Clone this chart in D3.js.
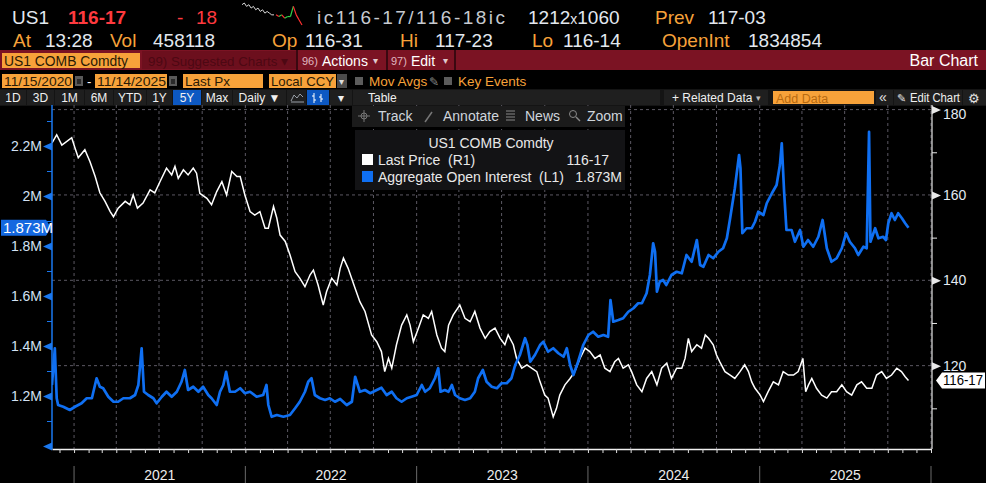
<!doctype html>
<html lang="en">
<head>
<meta charset="utf-8">
<title>US1 COMB Comdty - Bar Chart</title>
<script src="https://cdn.jsdelivr.net/npm/d3@7"></script>
<style>
  body { margin: 0; background: #000; overflow: hidden; }
  svg text { font-family: "Liberation Sans", Arial, sans-serif; white-space: pre; }
</style>
</head>
<body>
<script>
// ---- data ----
// last price (right axis, points)
var lastPrice = [
  ["2020-11-15",172.2],["2020-11-25",174.1],["2020-12-06",171.7],["2020-12-16",172.5],["2020-12-27",173.4],
  ["2021-01-03",171.0],["2021-01-10",168.7],["2021-01-24",170.6],["2021-02-04",167.8],["2021-02-15",164.3],["2021-02-25",160.5],
  ["2021-03-08",158.5],["2021-03-19",156.1],["2021-03-26",154.9],["2021-04-05",156.9],["2021-04-20",158.5],["2021-04-30",157.7],
  ["2021-05-07",160.0],["2021-05-16",156.9],["2021-05-28",158.1],["2021-06-12",161.2],["2021-06-22",160.5],["2021-07-03",163.1],
  ["2021-07-17",166.3],["2021-07-28",164.7],["2021-08-04",166.7],["2021-08-11",163.9],["2021-08-22",165.9],["2021-09-01",164.7],
  ["2021-09-12",166.3],["2021-09-19",165.1],["2021-09-26",160.4],["2021-10-11",159.2],["2021-10-21",157.7],["2021-11-01",160.8],
  ["2021-11-12",163.1],["2021-11-22",160.0],["2021-12-03",165.5],["2021-12-14",164.3],["2021-12-21",164.3],["2021-12-31",160.0],
  ["2022-01-11",156.1],["2022-01-21",155.3],["2022-02-01",156.1],["2022-02-12",152.2],["2022-02-19",152.2],["2022-03-02",157.3],
  ["2022-03-09",154.6],["2022-03-16",150.6],["2022-03-27",149.1],["2022-04-06",146.0],["2022-04-17",142.0],["2022-04-27",140.5],
  ["2022-05-08",138.5],["2022-05-19",141.3],["2022-05-26",142.4],["2022-06-05",138.9],["2022-06-16",134.2],["2022-06-23",137.3],
  ["2022-07-04",140.5],["2022-07-15",138.9],["2022-07-22",142.8],["2022-07-29",145.2],["2022-08-08",142.8],["2022-08-23",138.1],
  ["2022-09-02",135.0],["2022-09-13",132.7],["2022-09-27",127.2],["2022-10-08",125.6],["2022-10-18",123.3],["2022-10-25",118.6],
  ["2022-11-02",121.7],["2022-11-09",119.4],["2022-11-19",124.9],["2022-11-30",129.5],["2022-12-11",131.9],["2022-12-18",129.5],
  ["2022-12-25",125.6],["2023-01-05",128.8],["2023-01-15",131.9],["2023-01-26",131.1],["2023-02-02",132.7],["2023-02-13",127.2],
  ["2023-02-23",124.1],["2023-03-02",123.3],["2023-03-10",129.5],["2023-03-20",131.9],["2023-04-03",134.2],["2023-04-14",131.1],
  ["2023-04-25",130.3],["2023-05-05",132.7],["2023-05-16",128.8],["2023-05-27",126.4],["2023-06-06",128.0],["2023-06-17",128.8],
  ["2023-06-28",126.4],["2023-07-08",124.9],["2023-07-15",127.2],["2023-07-26",124.9],["2023-08-02",121.7],["2023-08-13",119.4],
  ["2023-08-24",120.2],["2023-09-03",119.4],["2023-09-14",118.6],["2023-09-21",116.2],["2023-10-01",113.1],["2023-10-08",112.4],
  ["2023-10-19",108.0],["2023-10-26",110.0],["2023-11-02",113.1],["2023-11-13",115.5],["2023-11-24",117.0],["2023-12-04",118.6],
  ["2023-12-15",121.7],["2023-12-26",124.1],["2024-01-05",123.3],["2024-01-16",121.7],["2024-01-27",122.5],["2024-02-06",119.4],
  ["2024-02-17",118.6],["2024-02-27",120.9],["2024-03-06",121.7],["2024-03-16",119.4],["2024-03-27",120.2],["2024-04-03",118.6],
  ["2024-04-14",115.5],["2024-04-25",113.9],["2024-05-05",117.0],["2024-05-16",118.6],["2024-05-27",115.5],["2024-06-06",119.4],
  ["2024-06-17",120.6],["2024-06-27",117.0],["2024-07-08",119.4],["2024-07-19",119.4],["2024-07-26",121.7],["2024-08-02",126.4],
  ["2024-08-09",123.3],["2024-08-20",124.9],["2024-08-30",124.1],["2024-09-07",127.2],["2024-09-14",126.4],["2024-09-24",124.9],
  ["2024-10-01",122.5],["2024-10-08",120.9],["2024-10-19",118.6],["2024-10-30",117.8],["2024-11-09",117.0],["2024-11-20",118.6],
  ["2024-11-30",120.2],["2024-12-08",118.6],["2024-12-15",116.2],["2024-12-22",114.7],["2025-01-02",113.1],["2025-01-09",111.6],
  ["2025-01-19",113.9],["2025-01-30",116.2],["2025-02-10",115.5],["2025-02-20",118.6],["2025-03-03",117.8],["2025-03-14",117.8],
  ["2025-03-24",118.6],["2025-04-03",121.7],["2025-04-09",113.9],["2025-04-15",115.5],["2025-04-22",117.0],["2025-05-02",114.7],
  ["2025-05-13",113.1],["2025-05-24",112.4],["2025-06-03",113.9],["2025-06-14",113.9],["2025-06-25",115.5],["2025-07-05",113.9],
  ["2025-07-16",113.1],["2025-07-27",115.5],["2025-08-06",116.2],["2025-08-17",114.7],["2025-08-28",114.7],["2025-09-07",117.8],
  ["2025-09-18",118.6],["2025-09-28",117.0],["2025-10-09",117.8],["2025-10-20",119.4],["2025-10-30",118.6],["2025-11-07",117.4],
  ["2025-11-14",116.53]
];

// aggregate open interest (left axis, millions of contracts)
var openInterest = [
  ["2020-11-15",1.244],["2020-11-21",1.391],["2020-11-25",1.191],["2020-11-28",1.164],["2020-12-09",1.157],["2020-12-23",1.144],
  ["2021-01-03",1.157],["2021-01-17",1.171],["2021-01-28",1.191],["2021-02-08",1.191],["2021-02-18",1.271],["2021-02-25",1.237],
  ["2021-03-04",1.231],["2021-03-15",1.197],["2021-03-26",1.177],["2021-04-05",1.177],["2021-04-16",1.191],["2021-04-30",1.191],
  ["2021-05-11",1.204],["2021-05-18",1.244],["2021-05-25",1.391],["2021-05-30",1.217],["2021-06-08",1.204],["2021-06-19",1.191],
  ["2021-06-26",1.171],["2021-07-07",1.197],["2021-07-17",1.217],["2021-07-28",1.197],["2021-08-08",1.217],["2021-08-18",1.257],
  ["2021-08-25",1.304],["2021-09-01",1.224],["2021-09-12",1.237],["2021-09-23",1.217],["2021-10-03",1.237],["2021-10-14",1.204],
  ["2021-10-21",1.191],["2021-11-01",1.164],["2021-11-08",1.217],["2021-11-15",1.244],["2021-11-21",1.297],["2021-11-29",1.217],
  ["2021-12-10",1.217],["2021-12-21",1.231],["2021-12-31",1.211],["2022-01-11",1.217],["2022-01-25",1.197],["2022-02-08",1.204],
  ["2022-02-15",1.244],["2022-02-19",1.164],["2022-02-26",1.117],["2022-03-09",1.124],["2022-03-23",1.117],["2022-04-06",1.124],
  ["2022-04-17",1.151],["2022-04-27",1.177],["2022-05-08",1.217],["2022-05-15",1.257],["2022-05-22",1.271],["2022-05-29",1.204],
  ["2022-06-09",1.191],["2022-06-20",1.184],["2022-06-30",1.191],["2022-07-11",1.177],["2022-07-22",1.188],["2022-08-05",1.164],
  ["2022-08-16",1.177],["2022-08-23",1.277],["2022-09-02",1.217],["2022-09-13",1.224],["2022-09-24",1.211],["2022-10-08",1.224],
  ["2022-10-18",1.233],["2022-10-29",1.204],["2022-11-09",1.217],["2022-11-19",1.191],["2022-11-30",1.177],["2022-12-11",1.191],
  ["2022-12-21",1.197],["2023-01-01",1.204],["2023-01-12",1.244],["2023-01-19",1.217],["2023-01-29",1.231],["2023-02-09",1.271],
  ["2023-02-16",1.311],["2023-02-21",1.217],["2023-03-02",1.224],["2023-03-10",1.217],["2023-03-17",1.244],["2023-03-24",1.204],
  ["2023-04-03",1.191],["2023-04-14",1.184],["2023-04-25",1.191],["2023-05-05",1.217],["2023-05-12",1.271],["2023-05-22",1.304],
  ["2023-05-30",1.257],["2023-06-10",1.237],["2023-06-21",1.231],["2023-07-01",1.251],["2023-07-12",1.251],["2023-07-22",1.271],
  ["2023-07-30",1.324],["2023-08-09",1.364],["2023-08-20",1.431],["2023-08-25",1.404],["2023-08-31",1.337],["2023-09-10",1.364],
  ["2023-09-21",1.404],["2023-09-28",1.417],["2023-10-08",1.377],["2023-10-19",1.391],["2023-10-30",1.371],["2023-11-10",1.357],
  ["2023-11-17",1.391],["2023-11-24",1.324],["2023-12-01",1.284],["2023-12-11",1.337],["2023-12-22",1.404],["2024-01-02",1.444],
  ["2024-01-12",1.457],["2024-01-23",1.437],["2024-02-03",1.444],["2024-02-13",1.437],["2024-02-18",1.584],["2024-02-24",1.497],
  ["2024-03-06",1.504],["2024-03-16",1.511],["2024-03-27",1.537],["2024-04-07",1.551],["2024-04-17",1.571],["2024-04-25",1.571],
  ["2024-05-05",1.611],["2024-05-12",1.684],["2024-05-19",1.811],["2024-05-23",1.777],["2024-05-27",1.617],["2024-06-02",1.657],
  ["2024-06-09",1.664],["2024-06-16",1.644],["2024-06-27",1.684],["2024-07-08",1.697],["2024-07-19",1.691],["2024-07-29",1.764],
  ["2024-08-09",1.737],["2024-08-20",1.824],["2024-08-27",1.724],["2024-09-03",1.717],["2024-09-14",1.764],["2024-09-24",1.751],
  ["2024-10-05",1.777],["2024-10-15",1.791],["2024-10-23",1.831],["2024-10-30",1.911],["2024-11-09",2.031],["2024-11-18",2.164],
  ["2024-11-21",2.111],["2024-11-25",1.851],["2024-12-04",1.871],["2024-12-15",1.871],["2024-12-22",1.897],["2024-12-29",1.937],
  ["2025-01-09",1.924],["2025-01-16",1.971],["2025-01-27",2.011],["2025-02-06",2.044],["2025-02-13",2.124],["2025-02-17",2.211],
  ["2025-02-22",2.017],["2025-02-27",1.864],["2025-03-10",1.864],["2025-03-17",1.817],["2025-03-28",1.864],["2025-04-04",1.797],
  ["2025-04-14",1.824],["2025-04-25",1.797],["2025-05-06",1.837],["2025-05-15",1.904],["2025-05-24",1.791],["2025-06-03",1.737],
  ["2025-06-14",1.751],["2025-06-25",1.791],["2025-07-04",1.851],["2025-07-12",1.817],["2025-07-23",1.791],["2025-07-30",1.764],
  ["2025-08-10",1.797],["2025-08-17",1.791],["2025-08-22",2.257],["2025-08-25",1.817],["2025-09-04",1.871],["2025-09-11",1.831],
  ["2025-09-21",1.837],["2025-09-27",1.824],["2025-10-02",1.891],["2025-10-09",1.931],["2025-10-16",1.904],["2025-10-23",1.931],
  ["2025-10-31",1.911],["2025-11-07",1.891],["2025-11-14",1.873]
];

var leftTicks  = [1.0, 1.2, 1.4, 1.6, 1.8, 2.0, 2.2];
var leftMinor  = [1.1, 1.3, 1.5, 1.7, 1.9, 2.1, 2.3];
var rightTicks = [180, 160, 140, 120];
var rightMinor = [170, 150, 130, 110];
var years      = [2021, 2022, 2023, 2024, 2025];
var lastPriceLabel = "116-17", lastOILabel = "1.873M";

// intraday sparkline in the header
var sparkPrev  = [10, 11, 9, 10, 8, 9, 7, 8, 6, 7, 5, 6, 5, 4, 4];
var sparkToday = [4, 3, 4, 2, 3, 3, 9, 4, 1, -2];

// ---- page ----
var FONT = '"Liberation Sans", Arial, sans-serif';
var ORANGE = "#f7a23a", WHITE = "#e3e8ef", RED = "#ff3a3f", BLUE = "#0f6ff2", GRID = "#5b5862";

var svg = d3.select("body").append("svg")
    .attr("width", 986).attr("height", 483)
    .style("display", "block").style("background", "#000");

function label(g, x, y, s, fill, size, extra) {
  var t = g.append("text").attr("x", x).attr("y", y).text(s)
      .attr("fill", fill).attr("font-size", size);
  if (extra) for (var k in extra) t.attr(k, extra[k]);
  return t;
}

// row 1 - quote line
var head = svg.append("g");
label(head, 12, 24, "US1", WHITE, 19);
label(head, 68, 24, "116-17", RED, 19, {"font-weight": "bold"});
label(head, 177, 24, "-", RED, 19);
label(head, 196, 24, "18", RED, 19);
label(head, 317, 24, "ic116-17/116-18ic", "#c6cad0", 19, {textLength: 188, lengthAdjust: "spacing"});
var dims = label(head, 528, 24, "1212", WHITE, 19);
dims.append("tspan").attr("font-size", 14).text("x");
dims.append("tspan").text("1060");
label(head, 655, 24, "Prev", ORANGE, 19);
label(head, 708, 24, "117-03", WHITE, 19);

// sparkline
var sxPrev = d3.scaleLinear().domain([0, sparkPrev.length - 1]).range([242, 274]);
var sxToday = d3.scaleLinear().domain([0, sparkToday.length - 1]).range([276, 302]);
var sy = d3.scaleLinear().domain([-2, 11]).range([25, 3]);
head.append("path")
  .attr("d", d3.line().x(function(d, i){ return sxPrev(i); }).y(function(d){ return sy(d); })(sparkPrev))
  .attr("fill", "none").attr("stroke", "#d8d8d8").attr("stroke-width", 1);
for (var i = 1; i < sparkToday.length; i++) {
  head.append("line")
    .attr("x1", sxToday(i - 1)).attr("y1", sy(sparkToday[i - 1]))
    .attr("x2", sxToday(i)).attr("y2", sy(sparkToday[i]))
    .attr("stroke", sparkToday[i] >= sparkToday[i - 1] ? "#2fd04a" : "#ff3030")
    .attr("stroke-width", 1.2);
}

// row 2
var row2 = [[13,"At",ORANGE],[45,"13:28",WHITE],[110,"Vol",ORANGE],[153,"458118",WHITE],
            [272,"Op",ORANGE],[305,"116-31",WHITE],[400,"Hi",ORANGE],[435,"117-23",WHITE],
            [532,"Lo",ORANGE],[563,"116-14",WHITE],[662,"OpenInt",ORANGE],[748,"1834854",WHITE]];
row2.forEach(function(r){ label(head, r[0], 47, r[1], r[2], 19); });

// row 3 - red menu bar
svg.append("rect").attr("x", 0).attr("y", 50).attr("width", 986).attr("height", 20).attr("fill", "#7b1323");
svg.append("rect").attr("x", 2).attr("y", 53).attr("width", 138).attr("height", 15).attr("fill", ORANGE);
label(svg, 4, 65.5, "US1 COMB Comdty", "#2a1a05", 14.5, {textLength: 124, lengthAdjust: "spacingAndGlyphs"});
svg.append("rect").attr("x", 142).attr("y", 51).attr("width", 154).attr("height", 18).attr("fill", "#6c0f1d");
label(svg, 148, 65.5, "99) Suggested Charts \u25BE", "#4d0813", 13.5, {textLength: 140, lengthAdjust: "spacingAndGlyphs"});
[297, 387, 455].forEach(function(sx){
  svg.append("rect").attr("x", sx - 1).attr("y", 50).attr("width", 2).attr("height", 20).attr("fill", "#3a0810");
});
label(svg, 302, 65, "96)", "#e0b8c0", 11);
label(svg, 322, 65.5, "Actions", "#ffffff", 14);
label(svg, 373, 64, "\u25BE", "#e0c8cc", 10);
label(svg, 391, 65, "97)", "#e0b8c0", 11);
label(svg, 411, 65.5, "Edit", "#ffffff", 14);
label(svg, 443, 64, "\u25BE", "#e0c8cc", 10);
label(svg, 978, 66, "Bar Chart", "#ffffff", 16, {"text-anchor": "end"});

// row 4 - range and field selectors
function orangeBox(x0, x1, s, len) {
  svg.append("rect").attr("x", x0).attr("y", 74).attr("width", x1 - x0).attr("height", 14).attr("fill", ORANGE);
  var t = label(svg, x0 + 2, 86, s, "#2a1a05", 13.5);
  if (len) t.attr("textLength", len).attr("lengthAdjust", "spacingAndGlyphs");
}
function calIcon(x0) {
  svg.append("rect").attr("x", x0).attr("y", 76).attr("width", 8).attr("height", 10).attr("fill", "#5a5a5a");
  svg.append("rect").attr("x", x0 + 2).attr("y", 79).attr("width", 4).attr("height", 5).attr("fill", "#2a2a2a");
}
orangeBox(2, 73, "11/15/2020", 68); calIcon(75);
label(svg, 87, 86, "-", "#ffffff", 13);
orangeBox(95, 167, "11/14/2025", 69); calIcon(169);
orangeBox(183, 263, "Last Px");
orangeBox(269, 336, "Local CCY", 63);
svg.append("rect").attr("x", 337).attr("y", 74).attr("width", 10).attr("height", 14).attr("fill", "#4a4a4a");
label(svg, 339, 85, "\u25BE", "#dddddd", 10);
svg.append("rect").attr("x", 355).attr("y", 77).attr("width", 8).attr("height", 8).attr("fill", "#5c5c5c");
label(svg, 369, 86, "Mov Avgs", ORANGE, 13.5);
label(svg, 429, 86, "\u270E", "#8a8a8a", 12);
svg.append("rect").attr("x", 444).attr("y", 77).attr("width", 8).attr("height", 8).attr("fill", "#5c5c5c");
label(svg, 458, 86, "Key Events", ORANGE, 13.5);

// row 5 - period buttons
svg.append("rect").attr("x", 0).attr("y", 89).attr("width", 986).attr("height", 17).attr("fill", "#141414");
var buttons = [[0,26,"1D"],[27,54,"3D"],[55,84,"1M"],[85,113,"6M"],[114,146,"YTD"],[147,172,"1Y"],
               [173,201,"5Y"],[202,232,"Max"],[233,286,"Daily \u25BC"],[287,306,""],[307,329,""],[330,352,"\u25BE"],
               [353,660,""]];
buttons.forEach(function(b){
  svg.append("rect").attr("x", b[0]).attr("y", 90).attr("width", b[1] - b[0]).attr("height", 15)
    .attr("fill", b[2] === "5Y" || b[0] === 307 ? "#0d58c2" : "#1f1f1f");
  if (b[2]) label(svg, (b[0] + b[1]) / 2, 102, b[2], "#f0f0f0", 12, {"text-anchor": "middle"});
});
label(svg, 368, 102, "Table", "#f0f0f0", 12);
// chart type icons
svg.append("path").attr("d", "M291,101 L294,95 L297,98 L300,94 L303,97").attr("fill", "none").attr("stroke", "#9aa0a8");
svg.append("path").attr("d", "M291,102 H304").attr("stroke", "#9aa0a8");
svg.append("path").attr("d", "M314,93 V103 M312,96 H314 M314,100 H316 M321,94 V102 M319,97 H321 M321,99 H323")
  .attr("stroke", "#ffffff").attr("fill", "none");
// right side of the toolbar
[[664,768],[876,893],[894,962],[963,986]].forEach(function(b){
  svg.append("rect").attr("x", b[0]).attr("y", 90).attr("width", b[1] - b[0]).attr("height", 15).attr("fill", "#1f1f1f");
});
label(svg, 672, 102, "+ Related Data", "#f0f0f0", 12);
label(svg, 756, 101, "\u25BE", "#bbbbbb", 9);
svg.append("rect").attr("x", 773).attr("y", 91).attr("width", 101).attr("height", 13).attr("fill", ORANGE);
label(svg, 776, 102.5, "Add Data", "#b86a10", 12.5);
label(svg, 879, 102, "\u00AB", "#e0e0e0", 14);
label(svg, 897, 102, "\u270E", "#e0e0e0", 11);
label(svg, 910, 102, "Edit Chart", "#f0f0f0", 12, {textLength: 50, lengthAdjust: "spacingAndGlyphs"});
label(svg, 968, 103, "\u2699", "#e0e0e0", 13, {"font-family": "DejaVu Sans"});

// ---- chart ----
var parse = d3.timeParse("%Y-%m-%d");
var x  = d3.scaleTime().domain([parse("2020-11-15"), parse("2026-01-01")]).range([52, 931]);
var yL = d3.scaleLinear().domain([1.0, 2.2]).range([446, 146]);
var yR = d3.scaleLinear().domain([100, 180]).range([451, 109.6]);
var pTop = 105, pBottom = 449, pLeft = 52, pRight = 932;

svg.append("clipPath").attr("id", "plotclip").append("rect")
  .attr("x", pLeft).attr("y", pTop).attr("width", pRight - pLeft).attr("height", pBottom - pTop);

// grid
var grid = svg.append("g").attr("stroke", GRID).attr("stroke-dasharray", "3,3").attr("stroke-width", 1);
x.ticks(d3.timeMonth.every(3)).forEach(function(d){
  grid.append("line").attr("x1", x(d)).attr("x2", x(d)).attr("y1", pTop).attr("y2", pBottom);
});
rightTicks.forEach(function(v){
  grid.append("line").attr("x1", pLeft).attr("x2", pRight).attr("y1", yR(v)).attr("y2", yR(v));
});

// series
var plot = svg.append("g").attr("clip-path", "url(#plotclip)");
plot.append("path")
  .attr("d", d3.line().x(function(d){ return x(parse(d[0])); }).y(function(d){ return yR(d[1]); })(lastPrice))
  .attr("fill", "none").attr("stroke", "#ffffff").attr("stroke-width", 1.5);
plot.append("path")
  .attr("d", d3.line().x(function(d){ return x(parse(d[0])); }).y(function(d){ return yL(d[1]); })(openInterest))
  .attr("fill", "none").attr("stroke", BLUE).attr("stroke-width", 2.7).attr("stroke-linejoin", "round");

// left axis (open interest)
var gL = svg.append("g").attr("transform", "translate(" + pLeft + ",0)");
gL.append("line").attr("y1", pTop).attr("y2", pBottom).attr("stroke", "#1a78f0").attr("stroke-width", 1.5);
gL.call(d3.axisLeft(yL).tickValues(leftTicks).tickSize(0).tickPadding(10)
  .tickFormat(function(d){ return d === 1.0 ? "" : (+d.toFixed(1)) + "M"; }));
gL.select(".domain").remove();
gL.attr("font-family", FONT).attr("font-size", 14);
gL.selectAll(".tick text").attr("fill", "#d3e2f4");
gL.selectAll(".tick").append("path").attr("d", "M0,-4L-9,0L0,4Z").attr("fill", "#1a78f0");
var gLm = svg.append("g").attr("transform", "translate(" + pLeft + ",0)");
gLm.call(d3.axisLeft(yL).tickValues(leftMinor).tickSize(5).tickFormat(""));
gLm.select(".domain").remove();
gLm.selectAll("line").attr("stroke", "#1a78f0");

// right axis (price)
var gR = svg.append("g").attr("transform", "translate(" + pRight + ",0)");
gR.append("line").attr("y1", pTop).attr("y2", pBottom).attr("stroke", "#e8e8e8").attr("stroke-width", 1.2);
gR.call(d3.axisRight(yR).tickValues(rightTicks).tickSize(0).tickPadding(11).tickFormat(d3.format("d")));
gR.select(".domain").remove();
gR.attr("font-family", FONT).attr("font-size", 14);
gR.selectAll(".tick text").attr("fill", "#e3e9f2")
  .attr("transform", function(d){ return yR(d) < 114 ? "translate(0," + (114 - yR(d)) + ")" : null; });
gR.selectAll(".tick").append("path").attr("d", "M0,-4L9,0L0,4Z").attr("fill", "#e8e8e8");
var gRm = svg.append("g").attr("transform", "translate(" + pRight + ",0)");
gRm.call(d3.axisRight(yR).tickValues(rightMinor).tickSize(5).tickFormat(""));
gRm.select(".domain").remove();
gRm.selectAll("line").attr("stroke", "#e8e8e8");

// bottom axis
var gX = svg.append("g").attr("transform", "translate(0," + pBottom + ")");
gX.call(d3.axisBottom(x).ticks(d3.timeMonth.every(1)).tickSize(4).tickSizeOuter(0).tickFormat(""));
gX.select(".domain").attr("stroke", "#f0f0f0").attr("stroke-width", 1.5);
gX.selectAll(".tick line").attr("stroke", "#e0e0e0");

// year band
var seps = d3.timeYear.range(new Date(2021, 0, 1), new Date(2026, 0, 2));
seps.forEach(function(d){
  svg.append("line").attr("x1", x(d)).attr("x2", x(d)).attr("y1", 466).attr("y2", 483)
    .attr("stroke", "#6a6a6a").attr("stroke-width", 1);
});
years.forEach(function(yv){
  var a = x(new Date(yv, 0, 1)), b = x(new Date(yv + 1, 0, 1));
  label(svg, (a + b) / 2, 480, String(yv), "#ececec", 14, {"text-anchor": "middle"});
});

// current value tags
var yo = yL(openInterest[openInterest.length - 1][1]);
svg.append("path").attr("d", "M1," + (yo - 8) + " H46 L51," + yo + " L46," + (yo + 8) + " H1Z").attr("fill", "#1468e0");
label(svg, 3, yo + 5, lastOILabel, "#ffffff", 15);
var yp = yR(lastPrice[lastPrice.length - 1][1]);
svg.append("path").attr("d", "M936," + yp + " L942," + (yp - 8) + " H985 V" + (yp + 8) + " H942Z").attr("fill", "#ffffff");
label(svg, 943, yp + 5, lastPriceLabel, "#000000", 14, {textLength: 40, lengthAdjust: "spacingAndGlyphs"});

// chart toolbar
svg.append("rect").attr("x", 352).attr("y", 106).attr("width", 273).attr("height", 21).attr("fill", "#1b1b1b");
svg.append("path").attr("d", "M358,116 H370 M364,110 V122").attr("stroke", "#777").attr("stroke-width", 1);
svg.append("circle").attr("cx", 364).attr("cy", 116).attr("r", 3).attr("fill", "none").attr("stroke", "#777");
label(svg, 378, 121, "Track", "#cfd5dc", 14);
svg.append("path").attr("d", "M425,122 L432,112").attr("stroke", "#777").attr("stroke-width", 1.5);
label(svg, 443, 121, "Annotate", "#cfd5dc", 14);
svg.append("path").attr("d", "M506,111 H515 M506,114 H515 M506,117 H515 M506,120 H515").attr("stroke", "#888");
label(svg, 525, 121, "News", "#cfd5dc", 14);
svg.append("circle").attr("cx", 573).attr("cy", 114).attr("r", 3.5).attr("fill", "none").attr("stroke", "#888");
svg.append("path").attr("d", "M576,117 L580,121").attr("stroke", "#888").attr("stroke-width", 1.5);
label(svg, 587, 121, "Zoom", "#cfd5dc", 14);

// legend
svg.append("rect").attr("x", 355).attr("y", 130).attr("width", 270).attr("height", 60).attr("fill", "#131315");
label(svg, 491, 148, "US1 COMB Comdty", "#e8e8e8", 14, {"text-anchor": "middle"});
svg.append("rect").attr("x", 362).attr("y", 154).attr("width", 11).attr("height", 11).attr("fill", "#ffffff");
label(svg, 378, 165, "Last Price  (R1)", "#e8e8e8", 14);
label(svg, 609, 165, lastPriceLabel, "#e8e8e8", 14, {"text-anchor": "end"});
svg.append("rect").attr("x", 362).attr("y", 171).attr("width", 11).attr("height", 11).attr("fill", BLUE);
label(svg, 378, 182, "Aggregate Open Interest  (L1)", "#e8e8e8", 14);
label(svg, 622, 182, lastOILabel, "#e8e8e8", 14, {"text-anchor": "end"});
</script>
</body>
</html>
